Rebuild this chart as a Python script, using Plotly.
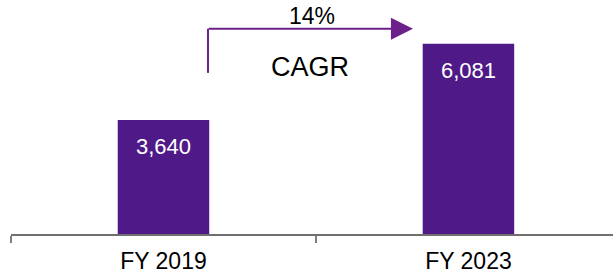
import plotly.graph_objects as go

categories = ["FY 2019", "FY 2023"]
values = [3640, 6081]
cagr_text = "14%"
cagr_label = "CAGR"

bar_color = "#4F1A88"
arrow_color = "#6B2189"
font_family = "Liberation Sans, Arial, sans-serif"

fig = go.Figure()
fig.add_trace(go.Bar(
    x=categories, y=values, width=0.30,
    marker=dict(color=bar_color, line=dict(width=0)),
    hoverinfo="skip",
))

# value labels inside bar tops
for c, v in zip(categories, values):
    fig.add_annotation(x=c, y=v, text=f"{v:,}", showarrow=False,
                       yanchor="top", yshift=-12,
                       font=dict(color="white", size=22, family=font_family))

# CAGR elbow arrow
x_start, x_end = 0.146, 0.818
y_low, y_high = 5150, 6560
fig.add_shape(type="line", xref="x", yref="y", x0=x_start, x1=x_start,
              y0=y_low, y1=y_high, line=dict(color=arrow_color, width=2))
fig.add_annotation(x=x_end, y=y_high, ax=x_start - 0.003, ay=y_high,
                   xref="x", yref="y", axref="x", ayref="y", text="",
                   showarrow=True, arrowhead=2, arrowsize=2.2, arrowwidth=2,
                   arrowcolor=arrow_color)
fig.add_annotation(xref="x", x=0.487, y=6975, text=cagr_text, showarrow=False,
                   yanchor="middle", borderpad=0,
                   font=dict(color="black", size=23, family=font_family))
fig.add_annotation(xref="x", x=0.48, y=5330, text=cagr_label, showarrow=False,
                   yanchor="middle", font=dict(color="black", size=27, family=font_family))

fig.update_layout(
    width=613, height=276,
    margin=dict(l=11, r=0, t=15, b=42),
    paper_bgcolor="white", plot_bgcolor="white",
    showlegend=False,
    font=dict(family=font_family, color="black"),
    xaxis=dict(type="category", range=[-0.5, 1.474], showgrid=False,
               showline=True, linecolor="#6F6F6F", linewidth=1.5,
               ticks="outside", tickson="boundaries", ticklen=7,
               tickcolor="#7F7F7F", tickwidth=1.5, ticklabelstandoff=6,
               tickfont=dict(size=23, color="black", family=font_family)),
    yaxis=dict(range=[0, 7000], visible=False, showgrid=False, zeroline=False),
)

fig.write_html("out.html", config={"displayModeBar": False},
               post_script="document.body.style.margin='0px';")
